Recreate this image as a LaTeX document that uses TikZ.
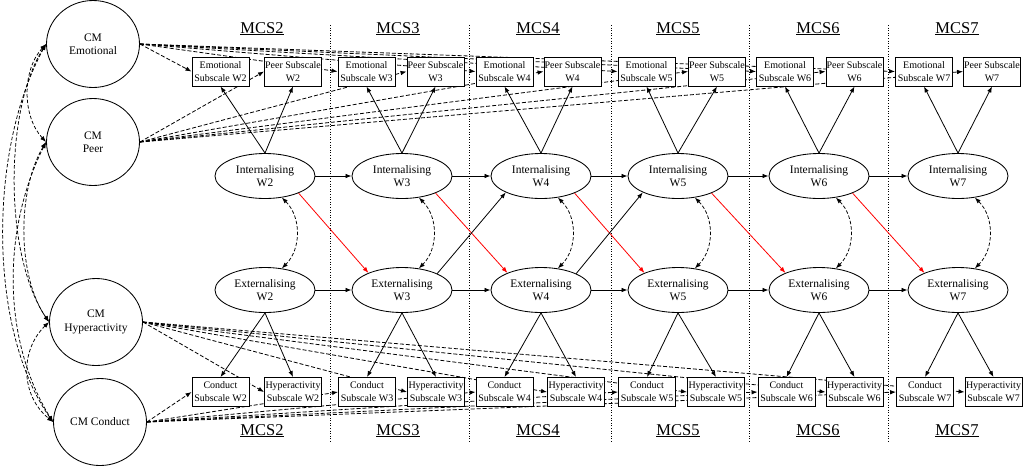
\documentclass[tikz,border=0pt]{standalone}
\usepackage{fontspec}
\setmainfont{Liberation Serif}
\usetikzlibrary{shapes.geometric,arrows.meta,backgrounds}
\begin{document}
\begin{tikzpicture}[x=1pt,y=1pt,
  box/.style={draw,fill=white,minimum width=57pt,minimum height=29pt,inner sep=0pt,align=center,font=\fontsize{10}{13}\selectfont,line width=0.9pt},
  lat/.style={draw,fill=white,ellipse,minimum width=100pt,minimum height=45pt,inner sep=0pt,align=center,font=\fontsize{11.5}{13.3}\selectfont,line width=0.85pt},
  cmnode/.style={draw,fill=white,ellipse,minimum width=93pt,minimum height=87pt,inner sep=0pt,align=center,font=\fontsize{11.5}{13.3}\selectfont,line width=0.85pt},
  wave/.style={anchor=base,font=\fontsize{16.5}{18}\selectfont,inner sep=0pt},
  arr/.style={-{Latex[length=6pt,width=4.5pt]},line width=0.8pt},
  darr/.style={arr,dash pattern=on 4pt off 2pt},
  redarr/.style={arr,red},
  cov/.style={{Latex[length=6pt,width=4.5pt]}-{Latex[length=6pt,width=4.5pt]},line width=0.75pt,dash pattern=on 3.5pt off 2pt},
  sepline/.style={line width=0.7pt,dash pattern=on 1pt off 1.6pt}
]
\useasboundingbox (0,0) rectangle (1030,-467);

% separators
\foreach \sx in {330,469,611,749,888}
  \draw[sepline] (\sx,-25) -- (\sx,-442);

% wave labels
\foreach \mx/\mi in {262/2,398/3,538/4,678/5,818/6,957/7}{
  \node[wave] (top\mi) at (\mx,-33) {\underline{MCS\mi}};
  \node[wave] (bot\mi) at (\mx,-435) {\underline{MCS\mi}};
}

% CM latent variables
\node[cmnode] (cme) at (93,-44) {CM\\Emotional};
\node[cmnode] (cmp) at (93,-142) {CM\\Peer};
\node[cmnode] (cmh) at (96,-322) {CM\\Hyperactivity};
\node[cmnode] (cmc) at (100,-422) {CM Conduct};

% waves
\foreach \w/\ex/\px/\cx/\hx/\lx in {2/220.5/293/220.5/293/265, 3/366.5/435.5/367/436/402, 4/504.5/572.5/504.5/576/541, 5/646.5/717/647/716/678, 6/785/854.5/786.5/854.5/819, 7/924/992/925/993.5/958}{
  \node[box] (E\w) at (\ex,-71.5) {Emotional\\Subscale W\w};
  \node[box] (P\w) at (\px,-71.5) {Peer Subscale\\W\w};
  \node[box] (C\w) at (\cx,-392) {Conduct\\Subscale W\w};
  \node[box] (H\w) at (\hx,-392) {Hyperactivity\\Subscale W\w};
  \node[lat] (I\w) at (\lx,-176) {Internalising\\W\w};
  \node[lat] (X\w) at (\lx,-290) {Externalising\\W\w};
}

% CM paths (behind boxes)
\begin{pgfonlayer}{background}
\foreach \w in {2,...,7}{
  \draw[darr] (cme.east) -- (E\w.west);
  \draw[darr] (cmp.east) -- (P\w.west);
  \draw[darr] (cmh.east) -- (H\w.west);
  \draw[darr] (cmc.east) -- (C\w.west);
}
\end{pgfonlayer}

% covariances among CM
\draw[cov] (cme.west) .. controls (22,-70) and (22,-116) .. (cmp.west);
\draw[cov] (cme.west) .. controls (4,-110) and (4,-256) .. (cmh.west);
\draw[cov] (cme.west) .. controls (-12,-150) and (-12,-330) .. (cmc.west);
\draw[cov] (cmp.west) .. controls (17,-190) and (17,-276) .. (cmh.west);
\draw[cov] (cmp.west) .. controls (2,-230) and (2,-340) .. (cmc.west);
\draw[cov] (cmh.west) .. controls (20,-350) and (20,-395) .. (cmc.west);

% measurement paths and covariances
\foreach \w in {2,...,7}{
  \draw[arr] (I\w.north) -- (E\w.south);
  \draw[arr] (I\w.north) -- (P\w.south);
  \draw[arr] (X\w.south) -- (C\w.north);
  \draw[arr] (X\w.south) -- (H\w.north);
  \draw[cov] (I\w.-52) to[out=-45,in=45] (X\w.52);
}

% autoregressive and cross-lagged paths
\foreach \w/\n in {2/3,3/4,4/5,5/6,6/7}{
  \draw[arr] (I\w.east) -- (I\n.west);
  \draw[arr] (X\w.east) -- (X\n.west);
  \draw[redarr] (I\w.-27) -- (X\n.153);
}
\draw[arr] (X3.25) -- (I4.205);
\draw[arr] (X4.25) -- (I5.205);
\end{tikzpicture}
\end{document}
